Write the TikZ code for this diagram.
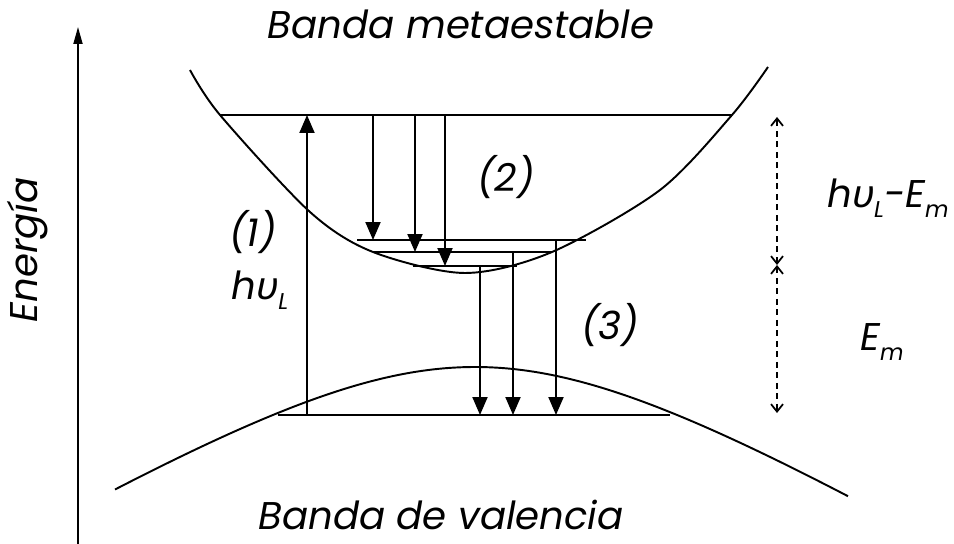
\documentclass[tikz,border=0pt]{standalone}
\usepackage{fontspec}
\setmainfont{Poppins}
\newfontfamily\grkfont{Noto Sans}
\usetikzlibrary{arrows.meta,calc}
\newcommand{\lowidx}[1]{\raisebox{-0.45ex}{\fontsize{13}{13}\selectfont #1}}
\newcommand{\hnu}{h{\grkfont\itshape υ}}
\tikzset{
  band/.style={line width=1.1pt},
  lvl/.style={line width=1.2pt},
  ar/.style={-{Triangle[length=3.6mm,width=3mm]},line width=1.1pt},
  dar/.style={{Straight Barb[length=1.5mm,width=2.4mm]}-{Straight Barb[length=1.5mm,width=2.4mm]},
              line width=1pt,dash pattern=on 1.2mm off 0.9mm},
  lab/.style={font=\fontsize{22}{26}\selectfont\itshape,inner sep=0pt},
}

\begin{document}
\begin{tikzpicture}[x=0.02cm,y=-0.02cm]
  \useasboundingbox (0,0) rectangle (954,544);
  % eje de energia
  \coordinate (e0) at (78,544);
  \coordinate (e1) at (78,27);
  \draw[-{Triangle[length=3.4mm,width=1.8mm]},line width=1pt] (e0) -- (e1);
  \node[lab,rotate=90] (ener) at (28,250) {Energía};
  % bandas
  \draw[band] plot[smooth] coordinates {(190,70) (220,115) (310,212) (373,252)
    (465,273) (552,252) (660,190) (732,115) (768,67)};
  \draw[band] plot[domain=115:848,samples=80,smooth]
    (\x,{367+100*(sqrt(1.6641+(0.006*(\x-475))*(0.006*(\x-475)))-1.29)});
  % niveles
  \coordinate (a0) at (220,115); \coordinate (a1) at (732,115);
  \coordinate (b0) at (357,240); \coordinate (b1) at (586,240);
  \coordinate (c0) at (373,252); \coordinate (c1) at (552,252);
  \coordinate (d0) at (413,266); \coordinate (d1) at (517,266);
  \coordinate (v0) at (278,415); \coordinate (v1) at (670,415);
  \foreach \p in {a,b,c,d,v} \draw[lvl] (\p0) -- (\p1);
  % transiciones
  \coordinate (xl) at (307,0);
  \draw[ar] (xl |- v0) -- (xl |- a0);
  \foreach \x/\lv in {373/b0,415/c0,445/d0}{
    \coordinate (xx) at (\x,0);
    \draw[ar] (xx |- a0) -- (xx |- \lv);
  }
  \foreach \x/\lv in {480/d0,513/c0,556/b0}{
    \coordinate (xx) at (\x,0);
    \draw[ar] (xx |- \lv) -- (xx |- v0);
  }
  % escala de energias
  \coordinate (m0) at (777,117);
  \coordinate (m1) at (777,265);
  \coordinate (m2) at (777,413);
  \draw[dar] (m1) -- (m0);
  \draw[dar] (m1) -- (m2);
  % textos
  \node[lab] (tmeta) at (461,24) {Banda metaestable};
  \node[lab,anchor=base] (tval) at (441,529) {Banda de valencia};
  \node[lab] (n1) at (253,232) {(1)};
  \node[lab] (n2) at (506,177) {(2)};
  \node[lab] (n3) at (610,325) {(3)};
  \node[lab] (hl) at (260,290) {\hnu\lowidx{L}};
  \node[lab] (hle) at (888,198) {\hnu\lowidx{L}-E\lowidx{m}};
  \node[lab] (em) at (882,342) {E\lowidx{m}};
\end{tikzpicture}
\end{document}
